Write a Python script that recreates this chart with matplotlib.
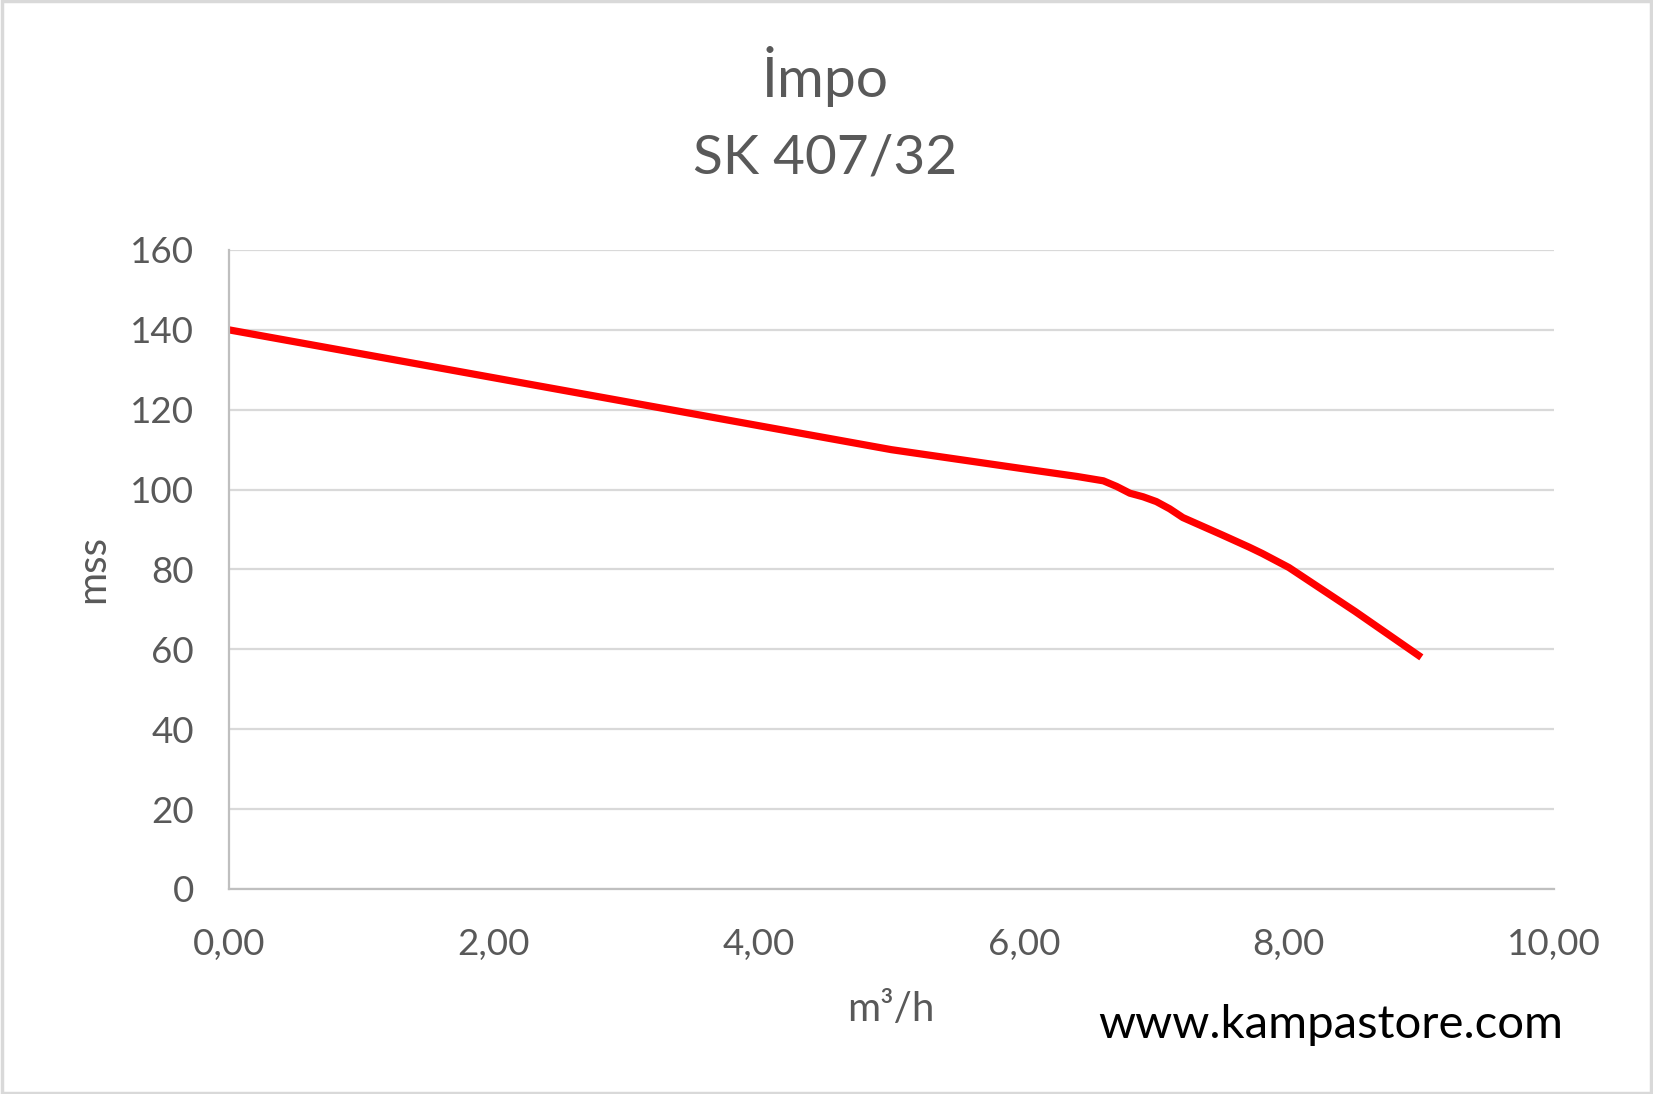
# encoding=utf-8
import matplotlib.pyplot as plt
from matplotlib.patches import Rectangle

plt.rcParams['font.family'] = ['Lato', 'DejaVu Sans']

# pump curve
flow = [0.0, 2.0, 4.0, 5.0, 5.5, 6.0, 6.4, 6.6, 6.7, 6.8, 6.9, 7.0, 7.1, 7.2,
        7.5, 7.7, 7.8, 8.0, 8.5, 9.0]
head = [140, 128, 116, 110, 107.6, 105.2, 103.3, 102.2, 100.8, 99.1, 98.2, 97.0, 95.2, 93.0,
        88.6, 85.6, 84.0, 80.5, 69.5, 58]
x_ticks = [0, 2, 4, 6, 8, 10]
y_ticks = [0, 20, 40, 60, 80, 100, 120, 140, 160]

grey = '#595959'
grid = '#D9D9D9'

fig = plt.figure(figsize=(16.53, 10.94), dpi=100)
ax = fig.add_axes([0.1385, 0.1874, 0.8015, 0.5841])

ax.plot(flow, head, color='#FF0000', lw=5.2, solid_joinstyle='round', solid_capstyle='butt')

ax.set_xlim(0, 10)
ax.set_ylim(0, 160)
ax.set_xticks(x_ticks)
ax.set_xticklabels([('%.2f' % v).replace('.', ',') for v in x_ticks])
ax.set_yticks(y_ticks)
ax.tick_params(length=0, labelsize=26.5, labelcolor=grey)
ax.tick_params(axis='x', pad=28)
ax.tick_params(axis='y', pad=25)
ax.grid(axis='y', color=grid, lw=1.6)
ax.set_axisbelow(True)
for s in ['top', 'right']:
    ax.spines[s].set_visible(False)
for s in ['left', 'bottom']:
    ax.spines[s].set_color('#BFBFBF')
    ax.spines[s].set_linewidth(1.6)

fig.text(0.499, 0.930, 'İmpo', ha='center', va='center', fontsize=41, color=grey)
fig.text(0.499, 0.856, 'SK 407/32', ha='center', va='center', fontsize=39.5, color=grey)
fig.text(0.056, 0.48, 'mss', rotation=90, ha='center', va='center', fontsize=29, color=grey)
fig.text(0.539, 0.077, 'm³/h', ha='center', va='center', fontsize=29, color=grey)
fig.text(0.805, 0.063, 'www.kampastore.com', ha='center', va='center', fontsize=34, color='black')

fig.patches.append(Rectangle((0.001, 0.001), 0.998, 0.998, transform=fig.transFigure,
                             fill=False, edgecolor=grid, lw=2.5))

fig.savefig('out.png', dpi=100)
